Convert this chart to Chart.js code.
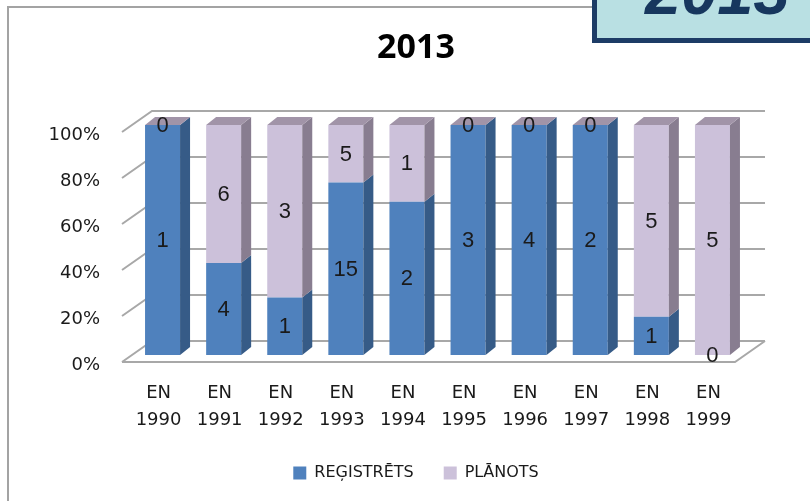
<!DOCTYPE html>
<html>
<head>
<meta charset="utf-8">
<script src="https://cdn.jsdelivr.net/npm/chart.js@4.4.1/dist/chart.umd.min.js"></script>
<style>
  html, body { margin: 0; padding: 0; background: #fff; }
  #wrap { position: relative; width: 810px; height: 501px; overflow: hidden; }
  #frame { position: absolute; left: 7px; top: 6px; width: 700px; height: 600px;
           border-top: 2px solid #a3a3a3; border-left: 2px solid #a3a3a3; }
  #badge { position: absolute; left: 592px; top: -30px; width: 260px; height: 63px;
           border: 5px solid #1d3c66; background: #b9e0e3; }
  #badge span { position: absolute; left: 48px; top: -16px; font: italic bold 65px/1 "Liberation Sans", Arial, sans-serif;
                color: #17375e; white-space: nowrap; }
  canvas { position: absolute; left: 0; top: 0; }
</style>
</head>
<body>
<div id="wrap">
  <canvas id="chart" width="810" height="501"></canvas>
  <div id="frame"></div>
  <div id="badge"><span>2013</span></div>
</div>
<script>
const categories = [
  ['EN', '1990'], ['EN', '1991'], ['EN', '1992'], ['EN', '1993'], ['EN', '1994'],
  ['EN', '1995'], ['EN', '1996'], ['EN', '1997'], ['EN', '1998'], ['EN', '1999']
];
const registered = [1, 4, 1, 15, 2, 3, 4, 2, 1, 0];
const planned = [0, 6, 3, 5, 1, 0, 0, 0, 5, 5];
const yTickValues = [0, 20, 40, 60, 80, 100];

// share of each bar in percent
const share = (a, b) => a.map((v, i) => (v + b[i]) ? 100 * v / (v + b[i]) : 0);

const frontColors = ['#4f81bd', '#ccc1da'];
const sideColors = ['#365b87', '#887d90'];
const topColor = '#a194a8';
const DX = 10, DY = 8;

// back wall, left wall and floor of the 3D box
const walls = {
  id: 'walls',
  beforeDatasetsDraw(chart) {
    const { ctx, chartArea: a, scales: { y } } = chart;
    const x0 = a.left - 10, x1 = a.right - 8;
    ctx.save();
    ctx.strokeStyle = '#a8a8a8';
    ctx.lineWidth = 2;
    y.ticks.forEach(t => {
      const p = y.getPixelForValue(t.value);
      ctx.beginPath();
      ctx.moveTo(x0, p + 7);
      ctx.lineTo(x0 + 30, p - 14);
      ctx.lineTo(x1 + 30, p - 14);
      ctx.stroke();
    });
    const p0 = y.getPixelForValue(0);
    ctx.beginPath();
    ctx.moveTo(x0, p0 + 7);
    ctx.lineTo(x1, p0 + 7);
    ctx.lineTo(x1 + 30, p0 - 14);
    ctx.stroke();
    ctx.restore();
  }
};

// side and top faces of the bars, then the value labels
const bars3d = {
  id: 'bars3d',
  afterDatasetsDraw(chart) {
    const ctx = chart.ctx;
    const metas = chart.data.datasets.map((d, i) => chart.getDatasetMeta(i));
    ctx.save();
    categories.forEach((c, i) => {
      let stackTop = null;
      metas.forEach((m, d) => {
        const { x, y, base, width } = m.data[i].getProps(['x', 'y', 'base', 'width'], true);
        const r = x + width / 2, top = Math.min(y, base), bot = Math.max(y, base);
        if (bot - top > 0.5) {
          ctx.fillStyle = sideColors[d];
          ctx.beginPath();
          ctx.moveTo(r, top);
          ctx.lineTo(r + DX, top - DY);
          ctx.lineTo(r + DX, bot - DY);
          ctx.lineTo(r, bot);
          ctx.closePath();
          ctx.fill();
        }
        stackTop = { l: x - width / 2, r, top };
      });
      ctx.fillStyle = topColor;
      ctx.beginPath();
      ctx.moveTo(stackTop.l, stackTop.top);
      ctx.lineTo(stackTop.l + DX, stackTop.top - DY);
      ctx.lineTo(stackTop.r + DX, stackTop.top - DY);
      ctx.lineTo(stackTop.r, stackTop.top);
      ctx.closePath();
      ctx.fill();
    });

    ctx.fillStyle = '#1a1a1a';
    ctx.font = '22px "Liberation Sans", Arial, sans-serif';
    ctx.textAlign = 'center';
    ctx.textBaseline = 'middle';
    metas.forEach((m, d) => {
      const raw = d === 0 ? registered : planned;
      m.data.forEach((el, i) => {
        const { x, y, base } = el.getProps(['x', 'y', 'base'], true);
        ctx.fillText(String(raw[i]), x, (y + base) / 2 + 1);
      });
    });
    ctx.restore();
  }
};

new Chart(document.getElementById('chart'), {
  type: 'bar',
  data: {
    labels: categories,
    datasets: [
      { label: 'REĢISTRĒTS', data: share(registered, planned), backgroundColor: frontColors[0], borderWidth: 0 },
      { label: 'PLĀNOTS', data: share(planned, registered), backgroundColor: frontColors[1], borderWidth: 0 }
    ]
  },
  options: {
    responsive: false,
    animation: false,
    layout: { padding: { left: 22, right: 0, top: 0, bottom: 10 } },
    datasets: { bar: { categoryPercentage: 1, barPercentage: 0.573 } },
    scales: {
      x: {
        stacked: true,
        grid: { display: false },
        border: { display: false },
        ticks: {
          color: '#1a1a1a',
          padding: 17,
          labelOffset: -4,
          maxRotation: 0,
          font: { family: '"DejaVu Sans", sans-serif', size: 18, lineHeight: '27px' }
        },
        afterFit(s) { s.height = 80; }
      },
      y: {
        stacked: true,
        min: 0,
        max: 100,
        grid: { display: false },
        border: { display: false },
        afterBuildTicks(s) { s.ticks = yTickValues.map(v => ({ value: v })); },
        ticks: {
          color: '#1a1a1a',
          padding: 24,
          labelOffset: 10,
          callback: v => v + '%',
          font: { family: '"DejaVu Sans", sans-serif', size: 18 }
        },
        afterFit(s) { s.width = 110; }
      },
      // empty right margin so the plot ends where the reference does
      yr: {
        position: 'right',
        grid: { display: false },
        border: { display: false },
        ticks: { display: false },
        afterFit(s) { s.width = 67; }
      }
    },
    plugins: {
      title: {
        display: true,
        text: '2013',
        color: '#000',
        padding: { top: 28, bottom: 56.2 },
        font: { family: '"Open Sans", sans-serif', size: 34, weight: 'bold', lineHeight: 1.2 }
      },
      legend: {
        position: 'bottom',
        labels: {
          boxWidth: 13,
          boxHeight: 13,
          padding: 30,
          color: '#1a1a1a',
          font: { family: '"DejaVu Sans", sans-serif', size: 16 }
        }
      },
      tooltip: { enabled: false }
    }
  },
  plugins: [walls, bars3d]
});
</script>
</body>
</html>
